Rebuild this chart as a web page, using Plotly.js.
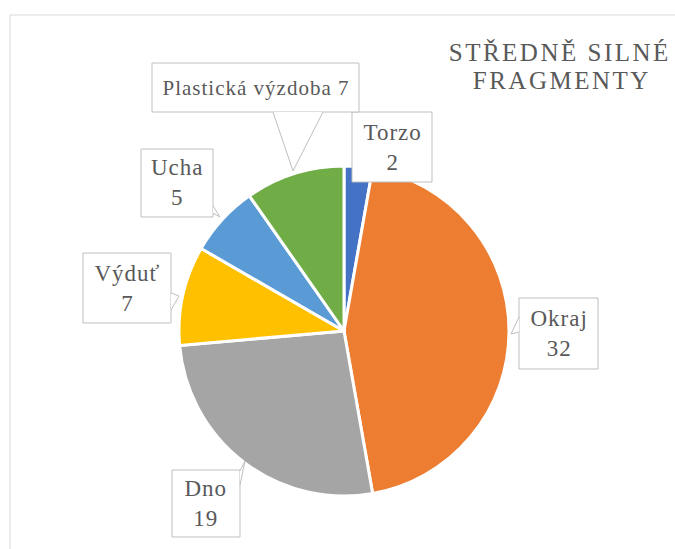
<!DOCTYPE html>
<html>
<head>
<meta charset="utf-8">
<script src="https://cdn.plot.ly/plotly-3.0.1.min.js"></script>
<style>
  html, body { margin: 0; padding: 0; background: #fff; }
  #chart { width: 675px; height: 549px; }
  .annotation text { letter-spacing: 1px; font-family: 'Liberation Serif', 'Times New Roman', serif !important; }
  .annotation[data-index="0"] text, .annotation[data-index="1"] text { letter-spacing: 2.5px; }
</style>
</head>
<body>
<div id="chart"></div>
<script>
// ---- data ----
const categories = ['Torzo', 'Okraj', 'Dno', 'Výduť', 'Ucha', 'Plastická výzdoba'];
const values = [2, 32, 19, 7, 5, 7];
const colors = ['#4472C4', '#ED7D31', '#A5A5A5', '#FFC000', '#5B9BD5', '#70AD47'];
const titleLines = ['STŘEDNĚ SILNÉ', 'FRAGMENTY'];

// ---- layout helpers (pixel -> paper) ----
const W = 675, H = 549;
const px = x => x / W;
const py = y => 1 - y / H;

// callout boxes (label placement, in pixels): box [x0,y0,x1,y1], wedge [base1, tip, base2] or null
const callouts = [
  { box: [352, 112, 432, 182], wedge: null, oneLine: false },
  { box: [519, 298, 598, 369], wedge: [[519, 317], [511, 334], [519, 332]], oneLine: false },
  { box: [172, 470, 240, 537], wedge: [[240, 471], [245, 461], [240, 485]], oneLine: false },
  { box: [83, 253, 171, 323], wedge: [[171, 293], [179, 296], [171, 310]], oneLine: false },
  { box: [141, 149, 213, 217], wedge: [[213, 206], [220, 217], [213, 213]], oneLine: false },
  { box: [152, 63, 359, 112], wedge: [[273, 112], [293, 171], [323, 112]], oneLine: true }
];

const textColor = '#595959';
const boxLine = '#BFBFBF';
const fontFam = 'Liberation Serif, Times New Roman, serif';

const shapes = [];
// chart area border
shapes.push({ type: 'rect', xref: 'paper', yref: 'paper', x0: px(10), y0: py(15), x1: px(720), y1: py(620),
  line: { color: '#D9D9D9', width: 1 }, fillcolor: 'rgba(0,0,0,0)', layer: 'below' });

const P = (p) => px(p[0]).toFixed(5) + ',' + py(p[1]).toFixed(5);

callouts.forEach(c => {
  const [x0, y0, x1, y1] = c.box;
  shapes.push({ type: 'rect', xref: 'paper', yref: 'paper', x0: px(x0), y0: py(y0), x1: px(x1), y1: py(y1),
    line: { color: boxLine, width: 1 }, fillcolor: '#FFFFFF', layer: 'above' });
});
callouts.forEach(c => {
  if (!c.wedge) return;
  const [b1, t, b2] = c.wedge;
  shapes.push({ type: 'path', xref: 'paper', yref: 'paper',
    path: 'M' + P(b1) + ' L' + P(t) + ' L' + P(b2) + ' Z',
    line: { width: 0, color: 'rgba(0,0,0,0)' }, fillcolor: '#FFFFFF', layer: 'above' });
  shapes.push({ type: 'path', xref: 'paper', yref: 'paper',
    path: 'M' + P(b1) + ' L' + P(t) + ' L' + P(b2),
    line: { width: 1, color: boxLine }, fillcolor: 'rgba(0,0,0,0)', layer: 'above' });
});

const annotations = [];
// title (two lines)
annotations.push({ xref: 'paper', yref: 'paper', x: px(560), y: py(53), xanchor: 'center', yanchor: 'middle',
  text: titleLines[0], showarrow: false, font: { family: fontFam, size: 25, color: textColor } });
annotations.push({ xref: 'paper', yref: 'paper', x: px(562), y: py(81), xanchor: 'center', yanchor: 'middle',
  text: titleLines[1], showarrow: false, font: { family: fontFam, size: 25, color: textColor } });

callouts.forEach((c, i) => {
  const [x0, y0, x1, y1] = c.box;
  const txt = c.oneLine ? categories[i] + ' ' + values[i] : categories[i] + '<br>' + values[i];
  annotations.push({ xref: 'paper', yref: 'paper', x: px((x0 + x1) / 2), y: py((y0 + y1) / 2),
    xanchor: 'center', yanchor: 'middle', text: txt, showarrow: false,
    font: { family: fontFam, size: c.oneLine ? 21 : 23, color: textColor } });
});

// pie placement: center (344,331), radius 165
const cx = 344, cy = 331, r = 165;

const trace = {
  type: 'pie',
  labels: categories,
  values: values,
  sort: false,
  direction: 'clockwise',
  rotation: 0,
  textinfo: 'none',
  hoverinfo: 'label+value',
  marker: { colors: colors, line: { color: '#FFFFFF', width: 3 } },
  domain: { x: [px(cx - r), px(cx + r)], y: [py(cy + r), py(cy - r)] },
  showlegend: false
};

const layout = {
  width: W, height: H,
  margin: { l: 0, r: 0, t: 0, b: 0 },
  paper_bgcolor: '#FFFFFF',
  showlegend: false,
  shapes: shapes,
  annotations: annotations,
  font: { family: fontFam, color: textColor }
};

Plotly.newPlot('chart', [trace], layout, { displayModeBar: false, staticPlot: true });
</script>
</body>
</html>
